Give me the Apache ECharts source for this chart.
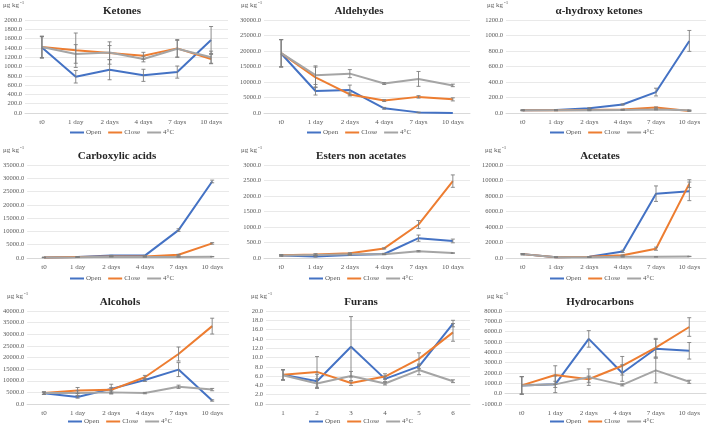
<!DOCTYPE html>
<html><head><meta charset="utf-8">
<script src="https://cdn.jsdelivr.net/npm/echarts@6/dist/echarts.min.js"></script>
<style>html,body{margin:0;padding:0;background:#fff}#c{width:709px;height:426px}</style>
</head><body><div id="c"></div>
<script>
// ---------- data ----------
const days = ['t0','1 day','2 days','4 days','7 days','10 days'];
const furanCats = ['1','2','3','4','5','6'];
const seriesNames = ['Open','Close','4°C'];

const ketOpen  = [1410, 780, 930, 810, 880, 1570];
const ketOpenErr  = [230, 135, 215, 130, 130, 290];
const ketClose = [1420, 1350, 1290, 1230, 1390, 1160];
const ketCloseErr = [230, 370, 240, 75, 190, 100];
const ketCold  = [1420, 1270, 1300, 1160, 1380, 1200];
const ketColdErr  = [230, 200, 150, 60, 180, 130];

const aldOpen  = [19200, 7100, 7400, 1500, 200, 0];
const aldOpenErr  = [4400, 1300, 1600, 300, 100, 0];
const aldClose = [19300, 11500, 6000, 4000, 5200, 4400];
const aldCloseErr = [4400, 3300, 500, 300, 400, 500];
const aldCold  = [19300, 12200, 12700, 9500, 11000, 8900];
const aldColdErr  = [4400, 3000, 1300, 300, 2400, 400];

const hkOpen  = [35, 40, 60, 110, 270, 930];
const hkOpenErr  = [5, 5, 10, 8, 50, 135];
const hkClose = [35, 35, 40, 45, 70, 25];
const hkCloseErr = [5, 5, 5, 5, 8, 5];
const hkCold  = [35, 35, 35, 40, 45, 35];
const hkColdErr  = [5, 5, 5, 5, 5, 5];

const caOpen  = [200, 400, 900, 900, 10500, 28800];
const caOpenErr  = [50, 50, 100, 100, 500, 500];
const caClose = [200, 400, 600, 600, 1200, 5500];
const caCloseErr = [50, 50, 100, 100, 200, 300];
const caCold  = [200, 300, 500, 400, 400, 500];
const caColdErr  = [50, 50, 50, 50, 50, 50];

const esOpen  = [80, 50, 100, 130, 640, 550];
const esOpenErr  = [20, 20, 20, 20, 100, 60];
const esClose = [90, 110, 150, 310, 1080, 2480];
const esCloseErr = [20, 30, 20, 20, 130, 200];
const esCold  = [80, 100, 120, 120, 220, 160];
const esColdErr  = [20, 20, 10, 10, 20, 10];

const acOpen  = [500, 100, 150, 850, 8300, 8600];
const acOpenErr  = [80, 20, 20, 150, 1000, 1200];
const acClose = [500, 100, 150, 350, 1200, 9600];
const acCloseErr = [80, 20, 20, 50, 200, 500];
const acCold  = [500, 100, 100, 150, 150, 200];
const acColdErr  = [80, 20, 20, 20, 20, 20];

const alOpen  = [4600, 3000, 6500, 10300, 14800, 1500];
const alOpenErr  = [500, 500, 2000, 600, 3000, 300];
const alClose = [4700, 5800, 6100, 11500, 21500, 33500];
const alCloseErr = [500, 1300, 1000, 800, 3000, 3400];
const alCold  = [4700, 4700, 5000, 4700, 7400, 6200];
const alColdErr  = [500, 1000, 700, 300, 700, 500];

const fuOpen  = [6.3, 4.9, 12.3, 5.4, 8.1, 17.3];
const fuOpenErr  = [1.1, 1.5, 6.5, 0.6, 0.5, 0.7];
const fuClose = [6.3, 6.9, 4.5, 5.9, 9.7, 15.4];
const fuCloseErr = [1.1, 3.3, 0.5, 0.6, 1.3, 1.9];
const fuCold  = [6.2, 4.4, 6.0, 4.4, 7.3, 4.9];
const fuColdErr  = [1.1, 1.0, 1.0, 0.3, 1.0, 0.3];

const hcOpen  = [800, 900, 5300, 2000, 4350, 4150];
const hcOpenErr  = [850, 300, 800, 800, 900, 800];
const hcClose = [800, 1800, 1400, 2700, 4450, 6450];
const hcCloseErr = [850, 900, 300, 900, 900, 900];
const hcCold  = [800, 900, 1600, 850, 2250, 1150];
const hcColdErr  = [850, 800, 800, 100, 1200, 150];

const titles = ['Ketones','Aldehydes','α-hydroxy ketones','Carboxylic acids','Esters non acetates','Acetates','Alcohols','Furans','Hydrocarbons'];
const yMin = [0, 0, 0, 0, 0, 0, 0, 0, -1000];
const yMax = [2000, 30000, 1200, 35000, 3000, 12000, 40000, 20, 8000];
const yStep = [200, 5000, 200, 5000, 500, 2000, 5000, 2, 1000];

// ---------- assembly ----------
const panels = [
  [days, ketOpen, ketOpenErr, ketClose, ketCloseErr, ketCold, ketColdErr],
  [days, aldOpen, aldOpenErr, aldClose, aldCloseErr, aldCold, aldColdErr],
  [days, hkOpen, hkOpenErr, hkClose, hkCloseErr, hkCold, hkColdErr],
  [days, caOpen, caOpenErr, caClose, caCloseErr, caCold, caColdErr],
  [days, esOpen, esOpenErr, esClose, esCloseErr, esCold, esColdErr],
  [days, acOpen, acOpenErr, acClose, acCloseErr, acCold, acColdErr],
  [days, alOpen, alOpenErr, alClose, alCloseErr, alCold, alColdErr],
  [furanCats, fuOpen, fuOpenErr, fuClose, fuCloseErr, fuCold, fuColdErr],
  [days, hcOpen, hcOpenErr, hcClose, hcCloseErr, hcCold, hcColdErr]
];

// layout
const gridLeft  = [25, 264, 506, 27, 264, 506, 27, 266, 505];
const gridWidth = [203, 206, 200, 202, 206, 200, 202, 204, 201];
const rowTop = [20, 165, 311];
const rowH = 93;
const titleY = [1, 146, 292];
const titleX = [117, 354, 594, 112, 356, 595, 115, 356, 595];
const legendY = [129, 275, 418];
const legendX = [117, 354, 597, 117, 356, 597, 115, 356, 597];
const unitX = [3, 241, 487, 3, 241, 485, 7, 251, 487];
const unitY = [0, 145, 291];

const colors = ['#4472C4', '#ED7D31', '#A5A5A5'];
const FONT = '"Liberation Serif", "DejaVu Serif", serif';

const grid = [], xAxis = [], yAxis = [], series = [], title = [], legend = [], graphic = [];
panels.forEach((p, i) => {
  const row = Math.floor(i / 3);
  grid.push({left: gridLeft[i], top: rowTop[row], width: gridWidth[i], height: rowH});
  xAxis.push({type: 'category', gridIndex: i, data: p[0], boundaryGap: true,
    axisLine: {lineStyle: {color: '#d9d9d9'}}, axisTick: {show: false},
    axisLabel: {fontFamily: FONT, fontSize: 7, color: '#595959', margin: 6, interval: 0}});
  yAxis.push({type: 'value', gridIndex: i, min: yMin[i], max: yMax[i], interval: yStep[i],
    axisLine: {show: false}, axisTick: {show: false},
    splitLine: {lineStyle: {color: '#e3e3e3', width: 0.8}},
    axisLabel: {fontFamily: FONT, fontSize: 6.5, color: '#595959', margin: 3,
      formatter: v => v.toFixed(1)}});
  title.push({text: titles[i], left: titleX[i], top: titleY[row], textAlign: 'center',
    textStyle: {fontFamily: FONT, fontSize: 11, fontWeight: 'bold', color: '#262626'}});
  legend.push({data: seriesNames, left: legendX[i] - 47, top: legendY[row], orient: 'horizontal',
    icon: 'rect', itemWidth: 14, itemHeight: 2, itemGap: 7, padding: 0,
    textStyle: {fontFamily: FONT, fontSize: 7, color: '#595959', padding: [0, 0, 0, -3]},
    selectedMode: false});
  graphic.push({type: 'text', left: unitX[i], top: unitY[row],
    style: {text: '{a|μg kg}{b|-1}', rich: {a: {fontFamily: FONT, fontSize: 7, fill: '#595959'},
      b: {fontFamily: FONT, fontSize: 5, fill: '#595959', verticalAlign: 'top', padding: [0, 0, 5, 1]}}}});
  for (let s = 0; s < 3; s++) {
    const vals = p[1 + s * 2], errs = p[2 + s * 2];
    series.push({name: seriesNames[s], type: 'line', xAxisIndex: i, yAxisIndex: i,
      data: vals, symbol: 'none', lineStyle: {width: 2, color: colors[s]}, itemStyle: {color: colors[s]},
      z: 3 + s});
    series.push({type: 'custom', xAxisIndex: i, yAxisIndex: i, z: 7, silent: true,
      data: vals.map((v, k) => [k, v, errs[k]]),
      renderItem: (params, api) => {
        const k = api.value(0), v = api.value(1), e = api.value(2);
        if (!e) return;
        const top = api.coord([k, v + e]), bot = api.coord([k, v - e]);
        const st = {stroke: '#7f7f7f', lineWidth: 0.9};
        return {type: 'group', children: [
          {type: 'line', shape: {x1: top[0], y1: top[1], x2: bot[0], y2: bot[1]}, style: st},
          {type: 'line', shape: {x1: top[0] - 2, y1: top[1], x2: top[0] + 2, y2: top[1]}, style: st},
          {type: 'line', shape: {x1: bot[0] - 2, y1: bot[1], x2: bot[0] + 2, y2: bot[1]}, style: st}
        ]};
      }});
  }
});

const chart = echarts.init(document.getElementById('c'), null, {renderer: 'canvas'});
chart.setOption({animation: false, color: colors, grid, xAxis, yAxis, series, title, legend, graphic});
</script></body></html>
